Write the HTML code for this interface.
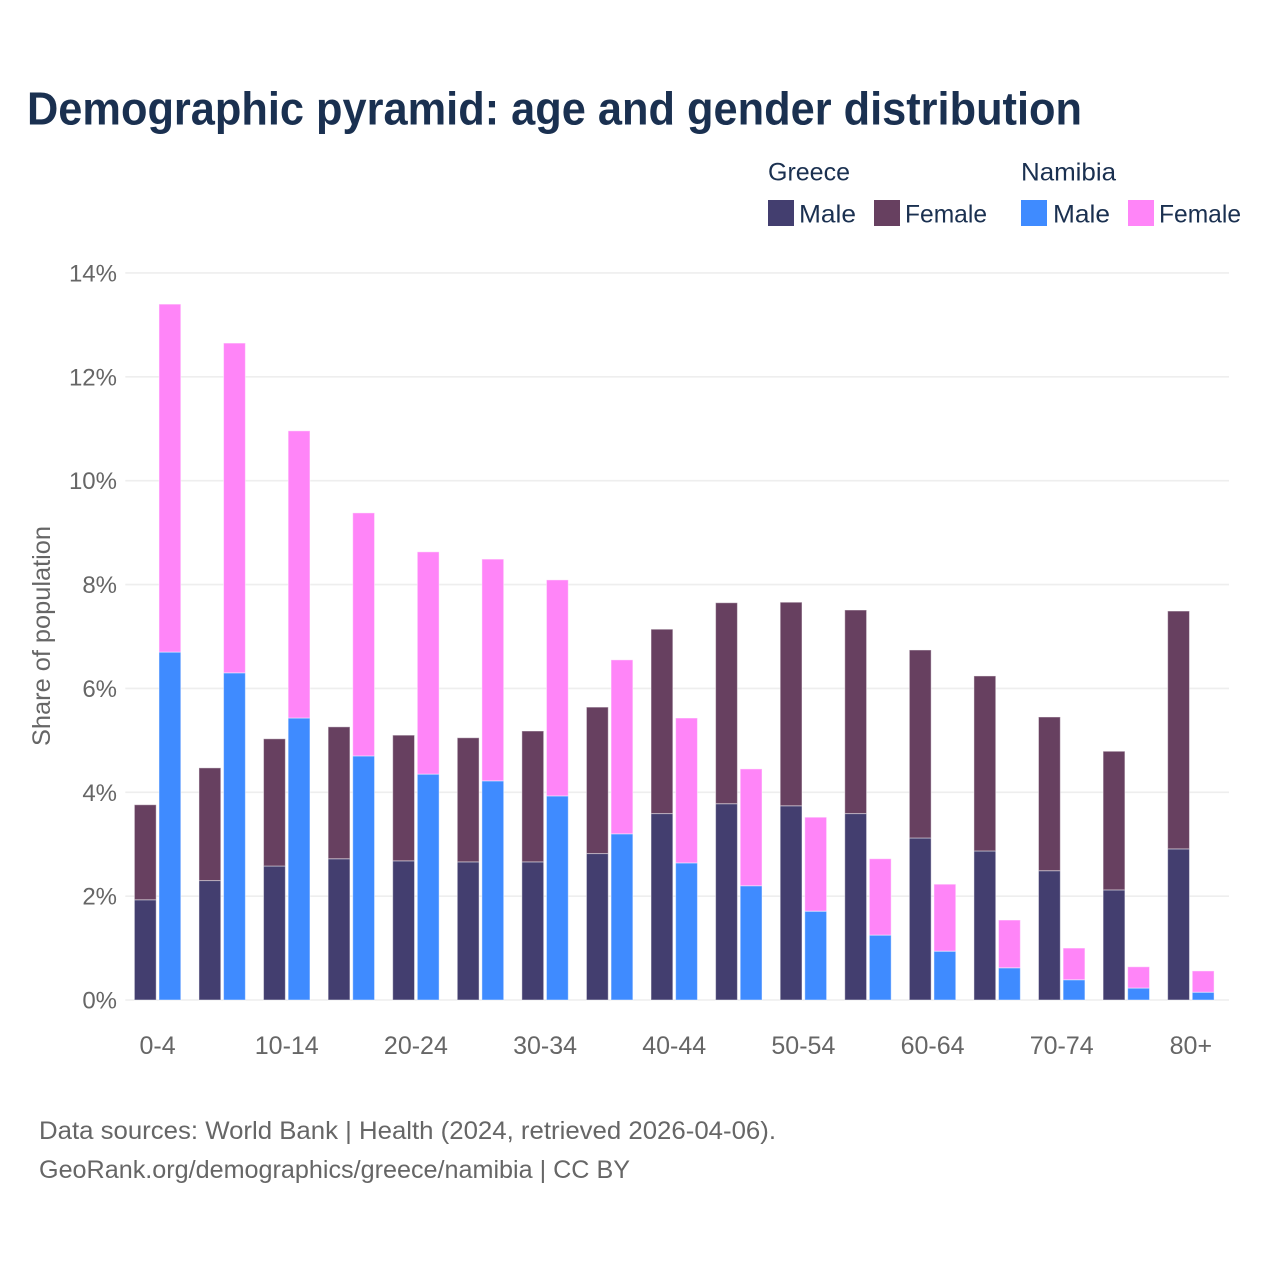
<!DOCTYPE html>
<html lang="en">
<head>
<meta charset="utf-8">
<title>Demographic pyramid</title>
<style>
html,body{margin:0;padding:0;background:#fff;width:1280px;height:1280px;overflow:hidden}
svg{display:block}
text{font-family:"Liberation Sans",Arial,sans-serif}
</style>
</head>
<body>
<svg id="chart" xmlns="http://www.w3.org/2000/svg" width="1280" height="1280" viewBox="0 0 1280 1280">
  <rect width="1280" height="1280" fill="#fff"/>
  <text x="27" y="124.5" font-size="46" font-weight="700" fill="#1a3050" textLength="1055" lengthAdjust="spacingAndGlyphs">Demographic pyramid: age and gender distribution</text>

  <g font-size="25" fill="#1a3050">
    <text x="768" y="180.5" textLength="82" lengthAdjust="spacingAndGlyphs">Greece</text>
    <text x="1021" y="180.5" textLength="95" lengthAdjust="spacingAndGlyphs">Namibia</text>
    <rect x="768" y="200" width="26" height="26" fill="#433e6f"/>
    <text x="799" y="222.5" textLength="57" lengthAdjust="spacingAndGlyphs">Male</text>
    <rect x="874" y="200" width="26" height="26" fill="#674060"/>
    <text x="905" y="222.5" textLength="82" lengthAdjust="spacingAndGlyphs">Female</text>
    <rect x="1021" y="200" width="26" height="26" fill="#3f8bff"/>
    <text x="1053" y="222.5" textLength="57" lengthAdjust="spacingAndGlyphs">Male</text>
    <rect x="1128" y="200" width="26" height="26" fill="#ff85f8"/>
    <text x="1159" y="222.5" textLength="82" lengthAdjust="spacingAndGlyphs">Female</text>
  </g>

  <g id="grid"></g>
  <g id="ytick-labels"></g>
  <g id="bars"></g>
  <g id="xtick-labels"></g>

  <text transform="translate(50,636) rotate(-90)" text-anchor="middle" font-size="25" fill="#666666" textLength="220" lengthAdjust="spacingAndGlyphs">Share of population</text>

  <text x="39" y="1139" font-size="25" fill="#666666" textLength="737" lengthAdjust="spacingAndGlyphs">Data sources: World Bank | Health (2024, retrieved 2026-04-06).</text>
  <text x="39" y="1178" font-size="25" fill="#666666" textLength="591" lengthAdjust="spacingAndGlyphs">GeoRank.org/demographics/greece/namibia | CC BY</text>
</svg>
<script>
const ageGroups = ['0-4','5-9','10-14','15-19','20-24','25-29','30-34','35-39','40-44','45-49','50-54','55-59','60-64','65-69','70-74','75-79','80+'];
const greeceMale = [1.93,2.30,2.58,2.72,2.68,2.66,2.66,2.82,3.59,3.78,3.74,3.59,3.12,2.87,2.49,2.12,2.91];
const greeceFemale = [1.83,2.17,2.45,2.54,2.42,2.39,2.52,2.82,3.55,3.87,3.92,3.92,3.62,3.37,2.96,2.67,4.58];
const namibiaMale = [6.70,6.30,5.43,4.70,4.35,4.22,3.93,3.20,2.64,2.20,1.71,1.25,0.94,0.62,0.39,0.23,0.15];
const namibiaFemale = [6.70,6.35,5.53,4.68,4.28,4.27,4.16,3.35,2.79,2.25,1.81,1.47,1.29,0.92,0.61,0.41,0.41];
const yTicks = [0,2,4,6,8,10,12,14];
const xTickEvery = 2;

const NS = 'http://www.w3.org/2000/svg';
const plotLeft = 125.3, plotRight = 1229, bandWidth = 64.58, y0 = 1000, pxPerUnit = 51.93;
const barWidth = 21.8, barOffset = 1.4;
const xScale = i => plotLeft + bandWidth * (i + 0.5);
const yScale = v => y0 - v * pxPerUnit;

const gridG = document.getElementById('grid');
const yLabG = document.getElementById('ytick-labels');
yTicks.forEach(t => {
  const line = document.createElementNS(NS, 'line');
  
  
  line.setAttribute('x1', plotLeft);
  line.setAttribute('x2', plotRight);
  line.setAttribute('y1', yScale(t));
  line.setAttribute('y2', yScale(t));
  line.setAttribute('stroke', '#eeeeee');
  line.setAttribute('stroke-width', '1.6');
  gridG.appendChild(line);
  const lab = document.createElementNS(NS, 'text');
  
  
  lab.setAttribute('x', 117);
  lab.setAttribute('y', yScale(t) + 8.5);
  lab.setAttribute('text-anchor', 'end');
  lab.setAttribute('font-size', '24');
  lab.setAttribute('fill', '#666666');
  lab.textContent = t + '%';
  yLabG.appendChild(lab);
});

const barsG = document.getElementById('bars');
function addBar(x, base, val, fill, name) {
  const r = document.createElementNS(NS, 'rect');
  
  
  r.setAttribute('x', x);
  r.setAttribute('y', yScale(base + val));
  r.setAttribute('width', barWidth);
  r.setAttribute('height', val * pxPerUnit);
  r.setAttribute('fill', fill);
  r.setAttribute('stroke', '#ffffff');
  r.setAttribute('stroke-opacity', '0.45');
  r.setAttribute('stroke-width', '1');
  barsG.appendChild(r);
}
ageGroups.forEach((g, i) => {
  const cx = xScale(i);
  const gx = cx - barOffset - barWidth;
  const nx = cx + barOffset;
  addBar(gx, 0, greeceMale[i], '#433e6f', 'bar-greece-male');
  addBar(gx, greeceMale[i], greeceFemale[i], '#674060', 'bar-greece-female');
  addBar(nx, 0, namibiaMale[i], '#3f8bff', 'bar-namibia-male');
  addBar(nx, namibiaMale[i], namibiaFemale[i], '#ff85f8', 'bar-namibia-female');
});

const xLabG = document.getElementById('xtick-labels');
ageGroups.forEach((g, i) => {
  if (i % xTickEvery !== 0) return;
  const lab = document.createElementNS(NS, 'text');
  
  
  lab.setAttribute('x', xScale(i));
  lab.setAttribute('y', 1054);
  lab.setAttribute('text-anchor', 'middle');
  lab.setAttribute('font-size', '25');
  lab.setAttribute('fill', '#666666');
  lab.textContent = g;
  xLabG.appendChild(lab);
});
</script>
</body>
</html>
